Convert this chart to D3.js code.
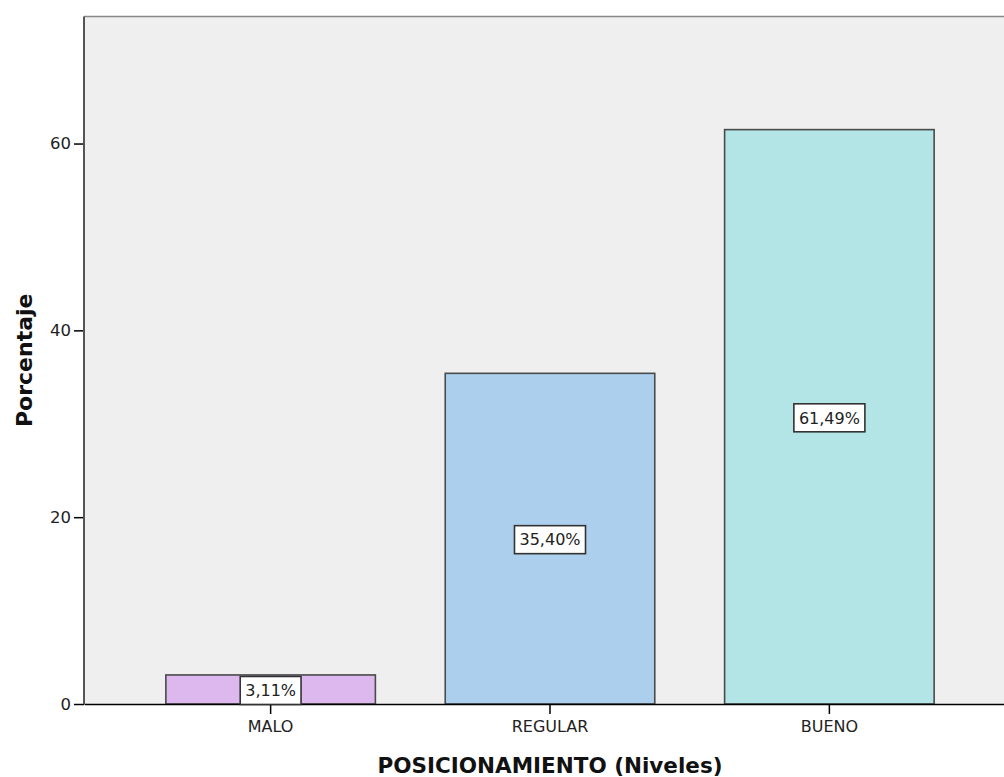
<!DOCTYPE html>
<html>
<head>
<meta charset="utf-8">
<script src="https://cdn.jsdelivr.net/npm/d3@7"></script>
<style>
  html, body { margin: 0; padding: 0; background: #fff; }
  svg { display: block; }
</style>
</head>
<body>
<svg id="chart" width="1004" height="777"></svg>
<script>
// Nivel de posicionamiento: porcentaje por categoría
const categories = ["MALO", "REGULAR", "BUENO"];
const values = [3.11, 35.40, 61.49];
const valueLabels = ["3,11%", "35,40%", "61,49%"];
const barColors = ["#dcb8ef", "#abcfed", "#b3e5e6"];
const yTicks = [0, 20, 40, 60];

const FONT = "'DejaVu Sans', Verdana, sans-serif";
const svg = d3.select("#chart");

const plot = { left: 84, right: 1016, top: 16.5, bottom: 704 };

const x = d3.scaleBand()
  .domain(categories)
  .range([plot.left, plot.right])
  .paddingInner(0.25)
  .paddingOuter(0.293);

const y = d3.scaleLinear()
  .domain([0, 73.6])
  .range([plot.bottom, plot.top]);

// fondo del área de trazado
svg.append("rect")
  .attr("x", plot.left).attr("y", plot.top)
  .attr("width", plot.right - plot.left)
  .attr("height", plot.bottom - plot.top)
  .attr("fill", "#efefef");

// borde superior
svg.append("line")
  .attr("x1", plot.left).attr("x2", plot.right)
  .attr("y1", plot.top).attr("y2", plot.top)
  .attr("stroke", "#888").attr("stroke-width", 1.5);

// barras
svg.append("g").selectAll("rect")
  .data(categories)
  .join("rect")
  .attr("x", d => x(d))
  .attr("width", x.bandwidth())
  .attr("y", (d, i) => y(values[i]))
  .attr("height", (d, i) => y(0) - y(values[i]))
  .attr("fill", (d, i) => barColors[i])
  .attr("stroke", "#4a4a4a")
  .attr("stroke-width", 1.6);

// eje Y
const yAxis = svg.append("g")
  .attr("transform", `translate(${plot.left},0)`)
  .call(d3.axisLeft(y).tickValues(yTicks).tickSize(10).tickPadding(3).tickFormat(d3.format("d")));
yAxis.select(".domain").remove();
yAxis.selectAll(".tick line").attr("stroke", "#000").attr("stroke-width", 1.5);
yAxis.selectAll(".tick text")
  .attr("fill", "#222")
  .style("font-family", FONT)
  .style("font-size", "16.5px");

svg.append("line")
  .attr("x1", plot.left).attr("x2", plot.left)
  .attr("y1", plot.top).attr("y2", plot.bottom)
  .attr("stroke", "#555").attr("stroke-width", 2);

// eje X
const xAxis = svg.append("g")
  .attr("transform", `translate(0,${plot.bottom})`)
  .call(d3.axisBottom(x).tickSize(10).tickPadding(7).tickSizeOuter(0));
xAxis.select(".domain").attr("stroke", "#000").attr("stroke-width", 1.6);
xAxis.selectAll(".tick line").attr("stroke", "#000").attr("stroke-width", 1.5);
xAxis.selectAll(".tick text")
  .attr("fill", "#222")
  .style("font-family", FONT)
  .style("font-size", "16px");

// etiquetas de valor
const labels = svg.append("g").selectAll("g")
  .data(categories)
  .join("g")
  .attr("transform", (d, i) => `translate(${x(d) + x.bandwidth() / 2},${y(values[i] / 2)})`);

labels.each(function(d, i) {
  const g = d3.select(this);
  const rect = g.append("rect").attr("fill", "#fff").attr("stroke", "#333").attr("stroke-width", 1.6);
  const t = g.append("text")
    .attr("text-anchor", "middle")
    .attr("y", 1)
    .attr("dy", "0.36em")
    .attr("fill", "#222")
    .style("font-family", FONT)
    .style("font-size", "16px")
    .text(valueLabels[i]);
  const bb = t.node().getBBox();
  rect.attr("x", bb.x - 5).attr("y", -13).attr("width", bb.width + 10).attr("height", 28);
});

// títulos de ejes
svg.append("text")
  .attr("x", (plot.left + plot.right) / 2)
  .attr("y", 772.5)
  .attr("text-anchor", "middle")
  .attr("fill", "#111")
  .style("font-family", FONT)
  .style("font-weight", "bold")
  .style("font-size", "21.5px")
  .text("POSICIONAMIENTO (Niveles)");

svg.append("text")
  .attr("transform", `translate(32,${(plot.top + plot.bottom) / 2}) rotate(-90)`)
  .attr("text-anchor", "middle")
  .attr("fill", "#111")
  .style("font-family", FONT)
  .style("font-weight", "bold")
  .style("font-size", "22px")
  .text("Porcentaje");
</script>
</body>
</html>
